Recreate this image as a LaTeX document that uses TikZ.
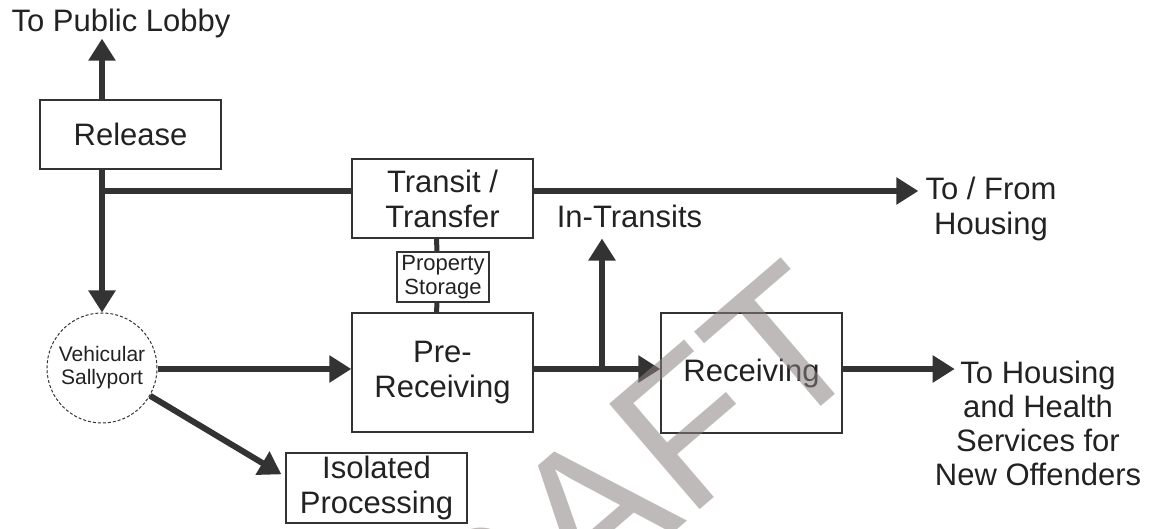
\documentclass[tikz,border=0pt]{standalone}
\usepackage{fontspec}
\setmainfont{Liberation Sans}
\usetikzlibrary{arrows.meta,calc}
\definecolor{ink}{HTML}{333333}
\definecolor{txt}{HTML}{222222}
\definecolor{wm}{RGB}{139,129,129}
\newcommand\bigfont{\fontsize{31}{35}\selectfont}
\newcommand\smallfont{\fontsize{22}{24}\selectfont}
\tikzset{
  box/.style={draw=ink, line width=1.3pt, rectangle, inner sep=0pt,
    align=center, text=txt, font=\bigfont},
  lbl/.style={inner sep=0pt, align=center, text=txt, font=\bigfont},
  flow/.style={draw=ink, line width=6pt},
  flowarr/.style={flow, -{Triangle[length=22pt,width=26pt]}},
  thinlink/.style={draw=ink, line width=5pt},
}
\begin{document}
\begin{tikzpicture}[x=1pt,y=-1pt]
\useasboundingbox (0,0) rectangle (1151,529);
\clip (0,0) rectangle (1151,529);

% boxes
\node[box, minimum width=181pt, minimum height=69pt]  (release) at (130.5,134.5) {Release};
\node[box, minimum width=181pt, minimum height=79pt]  (transit) at (442.5,198.5) {Transit /\\Transfer};
\node[box, minimum width=92pt, minimum height=50pt, font=\smallfont] (prop) at (443,277) {Property\\Storage};
\node[box, minimum width=181pt, minimum height=119pt] (pre) at (442.5,372.5) {Pre-\\Receiving};
\node[box, minimum width=181pt, minimum height=120pt] (recv) at (751.5,373) {Receiving};
\node[box, minimum width=181pt, minimum height=70pt]  (iso) at (376.5,488) {Isolated\\Processing};
\node[draw=ink, circle, dashed, dash pattern=on 3pt off 2pt, line width=1pt,
      minimum size=110pt, inner sep=0pt, align=center, text=txt,
      font=\fontsize{21}{23}\selectfont] (vs) at (102,368) {Vehicular\\Sallyport};

% free labels
\node[lbl, anchor=base] (lobby) at (121,32) {To Public Lobby};
\node[lbl, anchor=north] (tofrom) at (991,176.5) {To / From\\Housing};
\node[lbl, anchor=base] (intransits) at (629.5,228) {In-Transits};
\node[lbl, anchor=north, font=\fontsize{31}{34}\selectfont] (tohousing) at (1038,360.5)
  {To Housing\\and Health\\Services for\\New Offenders};

% junctions and open arrow ends
\coordinate (j1) at (102,191);
\coordinate (j2) at (602,369);
\coordinate (fromtip) at ($(tofrom.west |- j1)+(-7,0)$);
\coordinate (ittip) at ($(j2 |- intransits.south)+(0,10)$);
\coordinate (hstip) at ($(tohousing.west |- j2)+(20,0)$);
\coordinate (isotip) at ($(iso.north west)+(-4,22)$);

% connectors
\draw[flowarr] (vs |- release.north) -- (vs |- lobby.south);
\draw[flowarr] (vs |- release.south) -- (vs.north);
\draw[flow] (j1) -- (j1 -| transit.west);
\draw[flowarr] (j1 -| transit.east) -- (fromtip);
\draw[thinlink] ([xshift=-6pt]transit.south) -- ([xshift=-6pt]prop.north);
\draw[thinlink] ([xshift=-6pt]prop.south) -- ([xshift=-6pt]pre.north);
\draw[flowarr] (vs.east |- j2) -- (pre.west |- j2);
\draw[flowarr] (pre.east |- j2) -- (recv.west |- j2);
\draw[flowarr] (j2) -- (ittip);
\draw[flowarr] (recv.east |- j2) -- (hstip);
\draw[flowarr] (vs.-30) -- (isotip);

% watermark
\node[rotate=40.6, anchor=base west, inner sep=0pt, text=wm, opacity=0.55,
      font=\fontsize{202}{202}\selectfont] (wmark) at (364,798) {DRAFT};
\end{tikzpicture}
\end{document}
